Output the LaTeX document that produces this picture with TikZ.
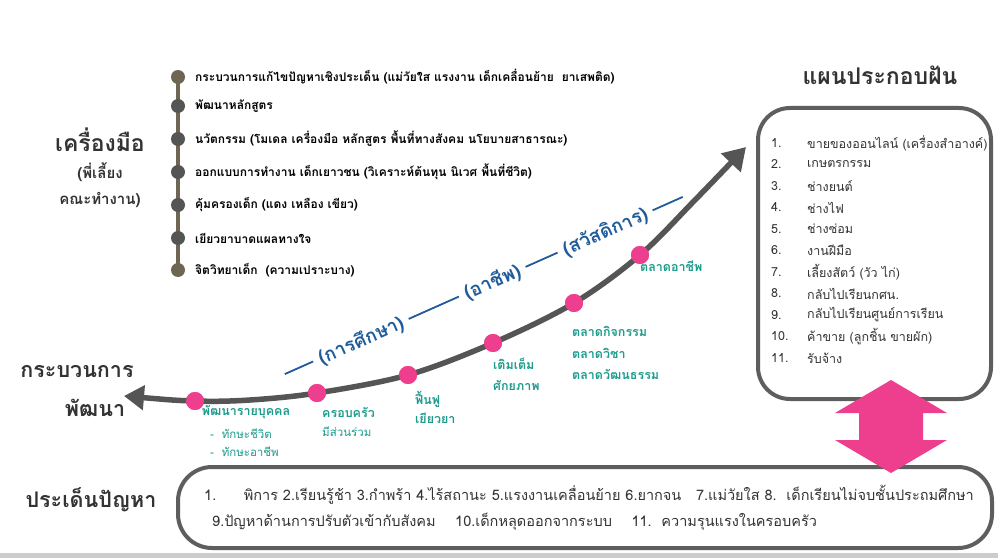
\documentclass[tikz,border=0pt]{standalone}
\usepackage{fontspec}
\newfontfamily\thai[Script=Thai]{Loma}
\usetikzlibrary{arrows.meta}
\definecolor{pinkc}{HTML}{EE3F8E}
\definecolor{tealc}{HTML}{1C9C8C}
\definecolor{bluec}{HTML}{1F5C99}
\definecolor{curvec}{HTML}{555555}
\definecolor{olivec}{HTML}{6E6652}
\definecolor{boxc}{HTML}{5E5E5E}
\definecolor{titlec}{HTML}{333333}
\tikzset{
  title/.style={font=\thai\bfseries\fontsize{23}{26}\selectfont, text=titlec, inner sep=0pt},
  subtitle/.style={font=\thai\bfseries\fontsize{15}{18}\selectfont, text=titlec, inner sep=0pt},
  tool/.style={anchor=west, font=\thai\bfseries\fontsize{12}{14}\selectfont, text=black, inner sep=0pt},
  tdot/.style={circle, fill=#1, minimum size=14pt, inner sep=0pt},
  plan/.style={anchor=west, font=\thai\fontsize{12.5}{14}\selectfont, text=titlec, inner sep=0pt},
  pdot/.style={circle, fill=pinkc, minimum size=18pt, inner sep=0pt},
  lab/.style={anchor=west, font=\thai\bfseries\fontsize{12.5}{14}\selectfont, text=tealc, inner sep=0pt},
  labr/.style={anchor=west, font=\thai\fontsize{11.5}{14}\selectfont, text=tealc, inner sep=0pt},
  frame/.style={draw=boxc, line width=4pt, rounded corners=#1},
  issue/.style={anchor=west, font=\thai\fontsize{14.5}{16}\selectfont, text=titlec, inner sep=0pt},
}
\newcommand{\dsh}[1]{\rule[0.3em]{#1}{1.8pt}}
\begin{document}
\begin{tikzpicture}[x=1pt,y=-1pt]
\useasboundingbox (0,0) rectangle (998,559);
\fill[white] (0,0) rectangle (998,559);
% shadow at bottom
\fill[black!20] (0,553) rectangle (998,558);

% left titles
\node[title] (t1) at (100,140) {เครื่องมือ};
\node[subtitle] (t2) at (100,172) {(พี่เลี้ยง};
\node[subtitle] (t3) at (100,200) {คณะทำงาน)};

% tools timeline
\coordinate (ta) at (178,77);
\coordinate (tg) at (178,270);
\draw[olivec, line width=4pt] (ta) -- (tg);
\node[tdot=olivec] (d1) at (178,77) {};
\node[tdot=curvec] (d2) at (178,106) {};
\node[tdot=curvec] (d3) at (178,139) {};
\node[tdot=curvec] (d4) at (178,172) {};
\node[tdot=curvec] (d5) at (178,205) {};
\node[tdot=curvec] (d6) at (178,238) {};
\node[tdot=olivec] (d7) at (178,270) {};
\node[tool] (i1) at (195,77) {กระบวนการแก้ไขปัญหาเชิงประเด็น (แม่วัยใส แรงงาน เด็กเคลื่อนย้าย~~ยาเสพติด)};
\node[tool] (i2) at (195,106) {พัฒนาหลักสูตร};
\node[tool] (i3) at (195,139) {นวัตกรรม (โมเดล เครื่องมือ หลักสูตร พื้นที่ทางสังคม นโยบายสาธารณะ)};
\node[tool] (i4) at (195,172) {ออกแบบการทำงาน เด็กเยาวชน (วิเคราะห์ต้นทุน นิเวศ พื้นที่ชีวิต)};
\node[tool] (i5) at (195,205) {คุ้มครองเด็ก (แดง เหลือง เขียว)};
\node[tool] (i6) at (195,238) {เยียวยาบาดแผลทางใจ};
\node[tool] (i7) at (195,270) {จิตวิทยาเด็ก~~(ความเปราะบาง)};

% right plan
\node[title] (pt) at (880,75) {แผนประกอบฝัน};
\draw[frame=32pt] (758,108) rectangle (991,399);
\foreach \n/\t [count=\k from 0] in {1./ขายของออนไลน์ (เครื่องสำอางค์), 2./เกษตรกรรม, 3./ช่างยนต์, 4./ช่างไฟ, 5./ช่างซ่อม, 6./งานฝีมือ, 7./เลี้ยงสัตว์ (วัว ไก่), 8./กลับไปเรียนกศน., 9./กลับไปเรียนศูนย์การเรียน, 10./ค้าขาย (ลูกชิ้น ขายผัก), 11./รับจ้าง}{
  \node[plan] (pn\k) at (771,143+21.5*\k) {\n};
  \node[plan] (pp\k) at (807,143+21.5*\k) {\t};
}

% bottom issue box
\node[title, font=\thai\bfseries\fontsize{21.5}{24}\selectfont] (it) at (91,500) {ประเด็นปัญหา};
\draw[frame=34pt] (178,467) rectangle (992,548);
\node[issue] (l1) at (204,495) {1.\hspace{1.9em}พิการ 2.เรียนรู้ช้า 3.กำพร้า 4.ไร้สถานะ 5.แรงงานเคลื่อนย้าย 6.ยากจน~~~7.แม่วัยใส 8.~~เด็กเรียนไม่จบชั้นประถมศึกษา};
\node[issue] (l2) at (212,522) {9.ปัญหาด้านการปรับตัวเข้ากับสังคม~~~~10.เด็กหลุดออกจากระบบ~~~~11.~~ความรุนแรงในครอบครัว};

% pink double arrow
\fill[pinkc] (891,380) -- (947,413) -- (923,413) -- (923,440) -- (947,440) -- (891,473)
  -- (835,440) -- (859,440) -- (859,413) -- (835,413) -- cycle;

% development process title
\node[title, font=\thai\bfseries\fontsize{21.5}{24}\selectfont] (g1) at (77,372) {กระบวนการ};
\node[title, font=\thai\bfseries\fontsize{21.5}{24}\selectfont] (g2) at (95,408) {พัฒนา};

% main curve
\coordinate (cs) at (124,396);
\coordinate (ce) at (746,147);
\node[pdot] (p1) at (195,401) {};
\node[pdot] (p2) at (317,393) {};
\node[pdot] (p3) at (408,375) {};
\node[pdot] (p4) at (493,343) {};
\node[pdot] (p5) at (574,303) {};
\node[pdot] (p6) at (640,255) {};
\draw[curvec, line width=5.5pt, {Triangle[length=20pt,width=24pt]}-{Triangle[length=22pt,width=26pt]}]
  plot[smooth, tension=0.55] coordinates {(cs) (p1.center) (250,400) (p2.center) (p3.center) (p4.center) (p5.center) (p6.center) (695,200) (ce)};
\foreach \p in {p1,p2,p3,p4,p5,p6} \fill[pinkc] (\p) circle (9pt);

% teal labels
\node[lab, anchor=center] (a1) at (246,412) {พัฒนารายบุคคล};
\node[labr] (a2) at (210,434) {-~~ทักษะชีวิต};
\node[labr] (a3) at (210,452) {-~~ทักษะอาชีพ};
\node[lab] (b1) at (322,412) {ครอบครัว};
\node[labr] (b2) at (322,432) {มีส่วนร่วม};
\node[lab] (c1) at (415,399) {ฟื้นฟู};
\node[lab] (c2) at (415,418) {เยียวยา};
\node[lab] (e1) at (493,364) {เติมเต็ม};
\node[lab] (e2) at (493,385) {ศักยภาพ};
\node[lab] (f1) at (572,331) {ตลาดกิจกรรม};
\node[lab] (f2) at (572,353) {ตลาดวิชา};
\node[lab] (f3) at (572,374) {ตลาดวัฒนธรรม};
\node[lab] (h1) at (640,266) {ตลาดอาชีพ};

% blue path text
\node[rotate=24, text=bluec, font=\thai\bfseries\fontsize{19}{21}\selectfont, inner sep=0pt] (bl) at (484,286)
  {\dsh{31pt}~(การศึกษา)~\dsh{55pt}~(อาชีพ)~\dsh{35pt}~(สวัสดิการ)~\dsh{33pt}};
\end{tikzpicture}
\end{document}
